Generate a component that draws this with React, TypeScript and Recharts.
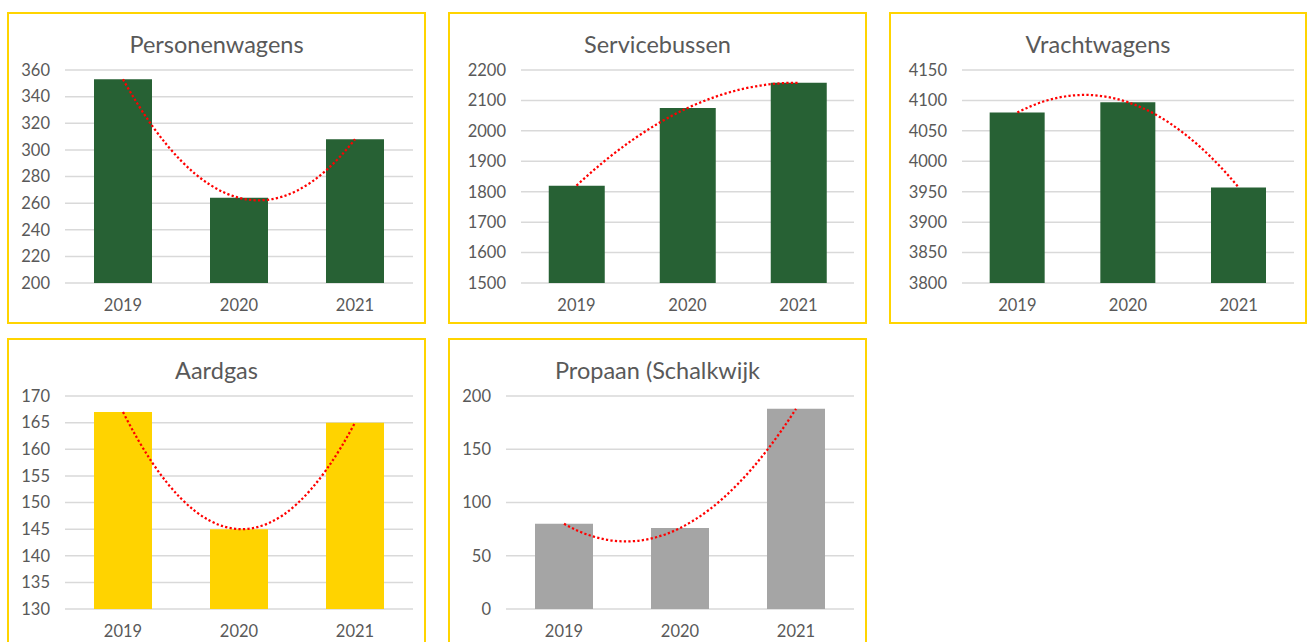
import React from 'react';
import { Bar, Line, XAxis, YAxis, CartesianGrid, ComposedChart } from 'recharts';

const years = ['2019', '2020', '2021'];

const personenwagens = [353, 264, 308];
const servicebussen = [1820, 2075, 2158];
const vrachtwagens = [4080, 4097, 3957];
const aardgas = [167, 145, 165];
const propaan = [80, 76, 188];

const personenTicks = [200, 220, 240, 260, 280, 300, 320, 340, 360];
const serviceTicks = [1500, 1600, 1700, 1800, 1900, 2000, 2100, 2200];
const vrachtTicks = [3800, 3850, 3900, 3950, 4000, 4050, 4100, 4150];
const aardgasTicks = [130, 135, 140, 145, 150, 155, 160, 165, 170];
const propaanTicks = [0, 50, 100, 150, 200];

const FONT = 'Lato, "Open Sans", sans-serif';

// 2nd order polynomial trendline: with three points the fit passes through all of them,
// which is exactly a quadratic bezier with control point 2*P1 - (P0+P2)/2
const polyTrend = (context: any) => {
  let pts: [number, number][] = [];
  return {
    areaStart() {},
    areaEnd() {},
    lineStart() {
      pts = [];
    },
    lineEnd() {
      if (pts.length === 3) {
        const [p0, p1, p2] = pts;
        context.moveTo(p0[0], p0[1]);
        context.quadraticCurveTo(
          2 * p1[0] - (p0[0] + p2[0]) / 2,
          2 * p1[1] - (p0[1] + p2[1]) / 2,
          p2[0],
          p2[1]
        );
      } else if (pts.length) {
        context.moveTo(pts[0][0], pts[0][1]);
        pts.slice(1).forEach(p => context.lineTo(p[0], p[1]));
      }
    },
    point(x: number, y: number) {
      pts.push([x, y]);
    },
  };
};

interface PanelProps {
  title: string;
  values: number[];
  ticks: number[];
  color: string;
  left: number;
  top: number;
  width: number;
  axisWidth: number;
}

const Panel: React.FC<PanelProps> = ({ title, values, ticks, color, left, top, width, axisWidth }) => {
  const data = years.map((year, i) => ({ year, value: values[i] }));
  const innerW = width - 4;
  const innerH = 308;
  return (
    <div
      style={{
        position: 'absolute',
        left,
        top,
        width: innerW,
        height: innerH,
        border: '2px solid #FFD400',
        background: '#fff',
      }}
    >
      <div
        style={{
          position: 'absolute',
          top: 16,
          left: 0,
          width: '100%',
          textAlign: 'center',
          fontFamily: FONT,
          fontSize: 23.5,
          color: '#595959',
          lineHeight: '28px',
        }}
      >
        {title}
      </div>
      <ComposedChart
        width={innerW}
        height={innerH}
        data={data}
        margin={{ top: 56, right: 11, bottom: 9, left: 0 }}
        barCategoryGap="25%"
      >
        <CartesianGrid vertical={false} stroke="#D9D9D9" strokeWidth={1.5} />
        <XAxis
          dataKey="year"
          axisLine={false}
          tickLine={false}
          tickMargin={10}
          tick={{ fill: '#595959', fontSize: 16.5, fontFamily: FONT }}
        />
        <YAxis
          domain={[ticks[0], ticks[ticks.length - 1]]}
          ticks={ticks}
          width={axisWidth}
          axisLine={false}
          tickLine={false}
          tickMargin={9}
          interval={0}
          tick={{ fill: '#595959', fontSize: 16.5, fontFamily: FONT }}
        />
        <Bar dataKey="value" fill={color} isAnimationActive={false} />
        <Line
          dataKey="value"
          type={polyTrend as any}
          stroke="#FF0000"
          strokeWidth={2.25}
          strokeDasharray="2.25 2.25"
          dot={false}
          activeDot={false}
          isAnimationActive={false}
        />
      </ComposedChart>
    </div>
  );
};

const App: React.FC = () => {
  return (
    <div style={{ position: 'absolute', left: 0, top: 0, width: 1308, height: 642, overflow: 'hidden', background: '#fff' }}>
      <Panel title="Personenwagens" values={personenwagens} ticks={personenTicks} color="#276134" left={7} top={12} width={419} axisWidth={56} />
      <Panel title="Servicebussen" values={servicebussen} ticks={serviceTicks} color="#276134" left={448} top={12} width={419} axisWidth={71} />
      <Panel title="Vrachtwagens" values={vrachtwagens} ticks={vrachtTicks} color="#276134" left={889} top={12} width={418} axisWidth={71} />
      <Panel title="Aardgas" values={aardgas} ticks={aardgasTicks} color="#FFD300" left={7} top={338} width={419} axisWidth={56} />
      <Panel title="Propaan (Schalkwijk" values={propaan} ticks={propaanTicks} color="#A5A5A5" left={448} top={338} width={419} axisWidth={56} />
    </div>
  );
};

export default App;
